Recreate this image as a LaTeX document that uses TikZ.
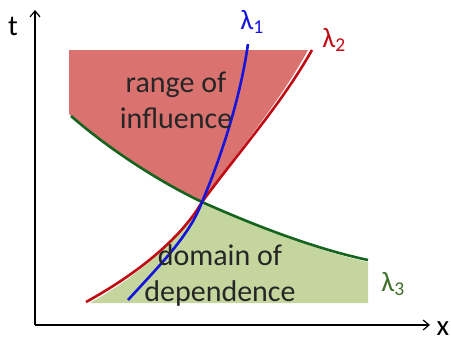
\documentclass[tikz,border=0pt]{standalone}
\usepackage{fontspec}
\setmainfont{Carlito}
\usetikzlibrary{arrows.meta}
\definecolor{rfill}{RGB}{218,115,112}
\definecolor{gfill}{RGB}{196,214,158}
\definecolor{lblue}{RGB}{20,20,220}
\definecolor{lred}{RGB}{192,10,20}
\definecolor{lgreen}{RGB}{20,100,30}
\definecolor{lgreentxt}{RGB}{60,110,40}
\tikzset{
  curve/.style={line width=2.6pt},
  axis/.style={line width=1.5pt,-{Straight Barb[length=6pt,width=10pt,line width=1.2pt]}},
  lab/.style={font=\fontsize{30}{36}\selectfont,align=center,text=black!85},
  lam/.style={font=\fontsize{28}{28}\selectfont}
}
\begin{document}
\begin{tikzpicture}[x=1pt,y=-1pt]
\useasboundingbox (0,0) rectangle (451,340);
\coordinate (P) at (202,202);
% red region
\fill[rfill] (69,50) -- (308,50) .. controls (278,105) and (238,150) .. (P)
  .. controls (160,180) and (110,150) .. (69,114) -- cycle;
% green region
\fill[gfill] (P) .. controls (260,228) and (320,252) .. (368,262) -- (368,303) -- (90,303)
  .. controls (138,276) and (180,240) .. (P) -- cycle;
% curves
\draw[curve,lgreen] (71,116) .. controls (110,150) and (160,182) .. (P)
  .. controls (260,228) and (320,250) .. (368,260);
\draw[curve,lred] (86,302) .. controls (135,275) and (180,240) .. (P)
  .. controls (242,148) and (282,103) .. (312,50);
\draw[curve,lblue] (128,300) .. controls (160,265) and (190,235) .. (P)
  .. controls (220,160) and (240,100) .. (248,44);
% axes
\coordinate (O) at (35,325);
\coordinate (T) at (35,10);
\coordinate (X) at (430,325);
\draw[axis] (O) -- (T);
\draw[axis] (O) -- (X);
\node[font=\fontsize{29}{29}\selectfont] (tl) at (13,26) {t};
\node[font=\fontsize{29}{29}\selectfont] (xl) at (443,329) {x};
% labels
\node[lab] (roi) at (176,100) {range of\\influence};
\node[lab] (dod) at (220,276) {domain of\\dependence};
\node[lam,text=lblue] (l1) at (252,22) {λ\textsubscript{1}};
\node[lam,text=lred] (l2) at (334,40) {λ\textsubscript{2}};
\node[lam,text=lgreentxt] (l3) at (393,284) {λ\textsubscript{3}};
\end{tikzpicture}
\end{document}
